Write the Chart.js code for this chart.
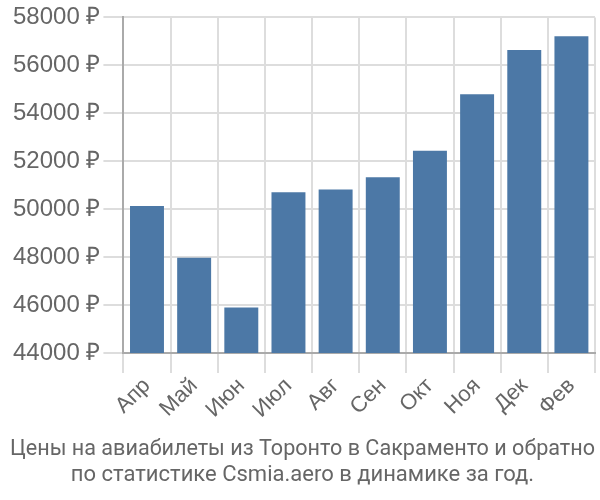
<!DOCTYPE html>
<html>
<head>
<meta charset="utf-8">
<script src="https://cdn.jsdelivr.net/npm/chart.js@4"></script>
<style>
  html, body { margin: 0; padding: 0; background: #fff; }
  #wrap { width: 600px; height: 500px; }
</style>
</head>
<body>
<div id="wrap"><canvas id="grafico"></canvas></div>
<script>
const meses = ['Апр', 'Май', 'Июн', 'Июл', 'Авг', 'Сен', 'Окт', 'Ноя', 'Дек', 'Фев'];
const precos = [50130, 47970, 45900, 50710, 50820, 51330, 52440, 54790, 56640, 57210];
const eixoMin = 44000;
const eixoMax = 58000;
const eixoPasso = 2000;
const titulo = ['Цены на авиабилеты из Торонто в Сакраменто и обратно', 'по статистике Csmia.aero в динамике за год.'];

Chart.defaults.font.family = 'Roboto';
Chart.defaults.color = '#666';

const ctx = document.getElementById('grafico').getContext('2d');
const data = {
    labels: meses,
    datasets: [{
        data: precos,
        backgroundColor: 'rgb(76, 120, 166)',
        borderColor: 'rgb(76, 120, 166)',
        borderWidth: 0,
        barPercentage: 0.72,
        categoryPercentage: 1.0
    }]
};

const config = {
    type: 'bar',
    data: data,
    options: {
        responsive: true,
        maintainAspectRatio: false,
        animation: false,
        layout: { padding: { right: 5, top: 0, left: 10 } },
        plugins: {
            legend: { display: false },
            tooltip: { enabled: false },
            title: {
                display: true,
                position: 'bottom',
                text: titulo,
                color: '#666',
                font: { size: 22, weight: 'normal', lineHeight: 1.2 },
                padding: { top: 13, bottom: 11 }
            }
        },
        scales: {
            x: {
                grid: { color: '#ddd', lineWidth: 2, tickLength: 20 },
                border: { color: '#aaa', width: 2 },
                ticks: {
                    font: { size: 22, family: '"Liberation Sans"' },
                    maxRotation: 45,
                    minRotation: 45,
                    color: '#666',
                    padding: 0
                }
            },
            y: {
                min: eixoMin,
                max: eixoMax,
                grid: { color: '#ddd', lineWidth: 2, tickLength: 20 },
                border: { color: '#aaa', width: 2 },
                ticks: {
                    stepSize: eixoPasso,
                    font: { size: 24, family: '"Liberation Sans"' },
                    color: '#666',
                    padding: 3,
                    callback: function (v) { return v + ' ₽'; }
                }
            }
        }
    }
};

new Chart(ctx, config);
</script>
</body>
</html>
